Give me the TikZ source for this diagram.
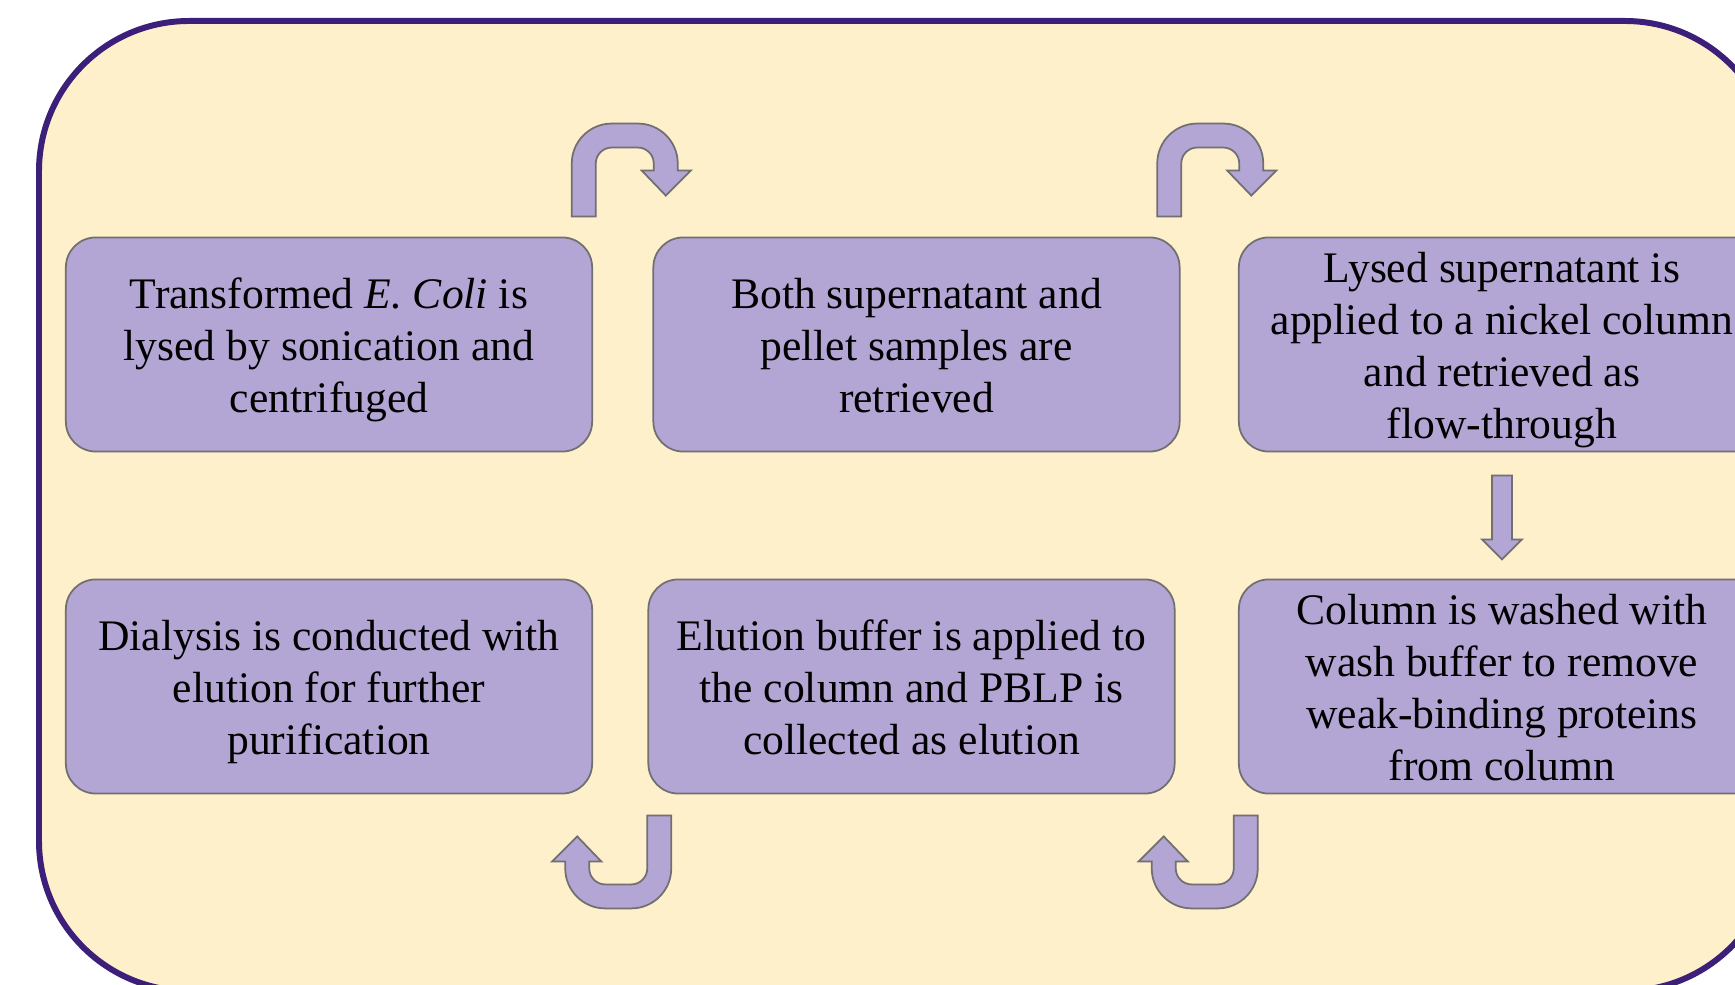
\documentclass[tikz,border=0pt]{standalone}
\usepackage{xcolor}
\usepackage{fontspec}
\setmainfont{Liberation Serif}
\usepackage{tikz}
\usetikzlibrary{calc}
\definecolor{cream}{HTML}{FFF0CC}
\definecolor{lilac}{HTML}{B3A6D5}
\definecolor{frameink}{HTML}{3C1F78}
\definecolor{edge}{HTML}{707070}
\newcommand{\lift}{\rule{0pt}{12.1pt}}
\newcommand{\sink}{\rule[-3pt]{0pt}{0pt}}

\begin{document}
\begin{tikzpicture}[x=.01cm,y=.01cm,
  stepbox/.style={draw=edge,line width=.5pt,fill=lilac,rounded corners=.3cm,minimum width=5.26cm,minimum height=2.14cm,inner xsep=1pt,inner ysep=0pt,align=center,font=\fontsize{12.4}{14.8}\selectfont},
  arrowbody/.style={draw=edge,line width=.5pt,fill=lilac},
  uturn/.pic={\filldraw[arrowbody] (-53,0)--(-53,53) arc (180:90:40)--(13,93) arc (90:0:40)--(53,46)--(66,46)--(41,21)--(17,46)--(29,46)--(29,53) arc (0:90:16)--(-13,69) arc (90:180:16)--(-29,0)--cycle;}]
\useasboundingbox (0,0) rectangle (1735,985);
\clip (0,0) rectangle (1735,985);
% panel
\draw[frameink,line width=1.7pt,fill=cream,rounded corners=1.5cm] (39,-6) rectangle (1775,964);
% top row
\node[stepbox] (lyse) at (329,640.5){\lift Transformed \textit{E. Coli} is\\lysed by sonication and\\centrifuged\sink};
\node[stepbox] (retrieve) at (916.5,640.5){\lift Both supernatant and\\pellet samples are\\retrieved\sink};
\node[stepbox] (column) at (1502,640.5){\lift Lysed supernatant is\\applied to a nickel column\\and retrieved as\\flow-through\sink};
% bottom row
\node[stepbox] (dialysis) at (329,298.5){\lift Dialysis is conducted with\\elution for further\\purification\sink};
\node[stepbox] (elute) at (911.5,298.5){\lift Elution buffer is applied to\\the column and PBLP is\\collected as elution\sink};
\node[stepbox] (wash) at (1502,298.5){\lift Column is washed with\\wash buffer to remove\\weak-binding proteins\\from column\sink};
% arrows
\pic at ($(lyse.north east)!.5!(retrieve.north west)+(2,20)$) {uturn};
\pic at ($(retrieve.north east)!.5!(column.north west)+(1,20)$) {uturn};
\filldraw[arrowbody] ($(column.south)+(-10,-23)$)--++(20,0)--++(0,-64)--++(10,0)--++(-20,-20)--++(-20,20)--++(10,0)--cycle;
\pic[rotate=180] at ($(wash.south west)!.5!(elute.south east)+(-2,-21)$) {uturn};
\pic[rotate=180] at ($(elute.south west)!.5!(dialysis.south east)+(-2,-21)$) {uturn};
\end{tikzpicture}
\end{document}
